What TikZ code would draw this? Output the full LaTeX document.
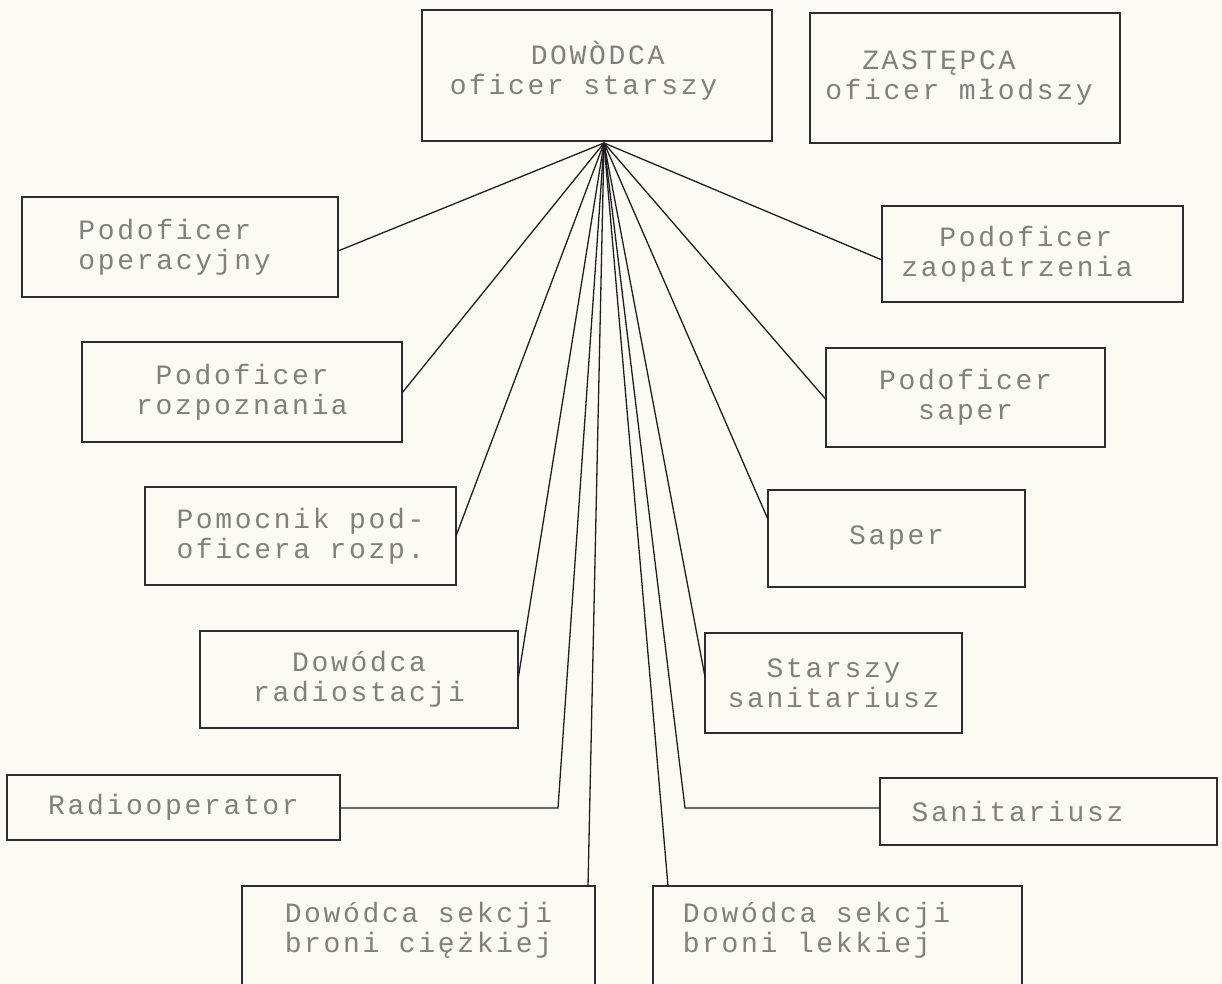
\documentclass[tikz,border=0pt]{standalone}
\usepackage{fontspec}
\newfontfamily\typer[LetterSpace=9.6]{Liberation Mono}
\usetikzlibrary{calc}
\definecolor{paper}{RGB}{251,250,244}
\definecolor{ink}{RGB}{45,45,45}
\definecolor{typeink}{RGB}{128,128,124}
\begin{document}
\begin{tikzpicture}[x=1pt,y=-1pt,
  orgbox/.style={draw=ink, line width=2.6pt, rectangle, inner sep=0pt, outer sep=0pt,
    align=center, text=typeink, font=\typer\fontsize{28}{30}\selectfont},
  link/.style={draw=black!88, line width=1.3pt}]
% sheet
\fill[paper] (0,0) rectangle (1222,984);
\useasboundingbox (0,0) rectangle (1222,984);

% commander and deputy
\node[orgbox, minimum width=350pt, minimum height=131pt, text depth=16pt, align=left] (cmd) at (597,75.5)
  {\hspace*{81pt}DOWÒDCA\\oficer starszy\hspace*{27pt}};
\node[orgbox, minimum width=310pt, minimum height=130pt, align=left] (dep) at (965,78)
  {\hspace*{37pt}ZASTĘPCA\\oficer młodszy\hspace*{12pt}};

% left column
\node[orgbox, minimum width=316pt, minimum height=100pt, align=left] (opr) at (180,247)
  {Podoficer\\operacyjny\hspace*{11pt}};
\node[orgbox, minimum width=320pt, minimum height=100pt] (roz) at (242,392) {Podoficer\\rozpoznania};
\node[orgbox, minimum width=311pt, minimum height=98pt] (pom) at (300.5,536) {Pomocnik pod-\\oficera rozp.};
\node[orgbox, minimum width=318pt, minimum height=97pt] (rad) at (359,679.5) {Dowódca\\radiostacji};
\node[orgbox, minimum width=333pt, minimum height=65pt] (rop) at (173.5,807.5) {Radiooperator};

% right column
\node[orgbox, minimum width=301pt, minimum height=96pt, align=left] (zao) at (1032.5,254)
  {\hspace*{38pt}Podoficer\\zaopatrzenia\hspace*{31pt}};
\node[orgbox, minimum width=279pt, minimum height=99pt] (sap) at (965.5,397.5) {Podoficer\\saper};
\node[orgbox, minimum width=257pt, minimum height=97pt] (spr) at (896.5,538.5) {Saper};
\node[orgbox, minimum width=257pt, minimum height=100pt] (ssa) at (833.5,683) {Starszy\\sanitariusz};
\node[orgbox, minimum width=337pt, minimum height=67pt, align=left] (san) at (1048.5,811.5)
  {Sanitariusz\hspace*{62pt}};

% section leaders at the foot of the sheet
\node[orgbox, minimum width=353pt, minimum height=114pt, text depth=32pt] (ciez) at (418.5,943)
  {Dowódca sekcji\\broni ciężkiej};
\node[orgbox, minimum width=369pt, minimum height=114pt, text depth=32pt, align=left] (lek) at (837.5,943)
  {Dowódca sekcji\hspace*{42pt}\\broni lekkiej};

% all links fan out from one point under the commander
\coordinate (hub) at (604,143);
\coordinate (ropbend) at (558,808);
\coordinate (sanbend) at (685,808);

\draw[link] (hub) -- ($(opr.east)+(0,4)$);
\draw[link] (hub) -- ($(roz.east)+(0,1)$);
\draw[link] (hub) -- (pom.east);
\draw[link] (hub) -- (rad.east);
\draw[link] (hub) -- (ropbend) -- (rop.east |- ropbend);
\draw[link] (hub) -- ($(ciez.north east)+(-7,0)$);
\draw[link] (hub) -- ($(lek.north west)+(15,0)$);
\draw[link] (hub) -- (sanbend) -- (san.west |- sanbend);
\draw[link] (hub) -- ($(ssa.west)+(0,-6)$);
\draw[link] (hub) -- ($(spr.west)+(0,-19)$);
\draw[link] (hub) -- ($(sap.west)+(0,2)$);
\draw[link] (hub) -- ($(zao.west)+(0,6)$);
\end{tikzpicture}
\end{document}
